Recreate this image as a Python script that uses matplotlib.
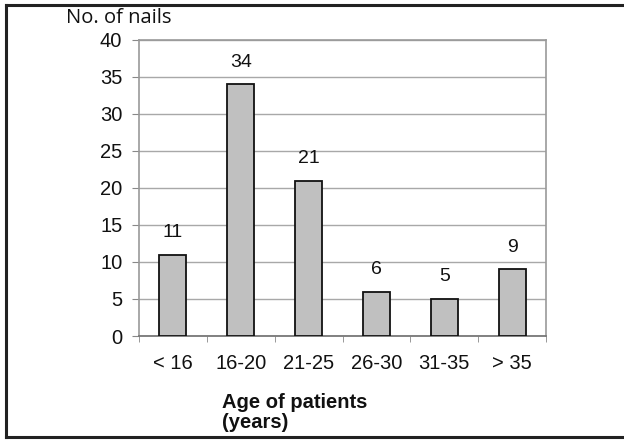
import matplotlib.pyplot as plt
from matplotlib.lines import Line2D
import numpy as np

groups = ['< 16', '16-20', '21-25', '26-30', '31-35', '> 35']
nails = [11, 34, 21, 6, 5, 9]
yticks = [0, 5, 10, 15, 20, 25, 30, 35, 40]

plt.rcParams['font.family'] = 'Liberation Sans'

fig = plt.figure(figsize=(6.24, 4.41), dpi=100)
ax = fig.add_axes([139/624, 1-336/441, (546-139)/624, (336-40)/441])

x = np.arange(len(groups))
bars = ax.bar(x, nails, width=0.4, color='#c0c0c0', edgecolor='#111111', linewidth=1.3, zorder=3)
for xi, v in zip(x, nails):
    ax.annotate(str(v), (xi, v), xytext=(0, 10), textcoords='offset points',
                ha='center', va='bottom', fontsize=14, color='#111111')

ax.set_xlim(-0.5, len(groups) - 0.5)
ax.set_ylim(0, 40)
ax.set_yticks(yticks)
ax.set_xticks(x)
ax.set_xticklabels(groups)
ax.set_xticks(np.arange(len(groups) + 1) - 0.5, minor=True)
ax.tick_params(axis='x', which='major', length=0, pad=13, labelsize=14.5, colors='#111111')
ax.tick_params(axis='x', which='minor', length=4, color='#888888', direction='out')
ax.tick_params(axis='y', length=5, color='#888888', pad=7, labelsize=14.5, labelcolor='#111111')
ax.grid(axis='y', color='#a8a8a8', linewidth=1, zorder=0)
for s in ['left', 'top', 'right']:
    ax.spines[s].set_color('#999999')
    ax.spines[s].set_linewidth(1.2)
ax.spines['bottom'].set_color('#777777')
ax.spines['bottom'].set_linewidth(1.3)

fig.text(66/624, 1-18/441, 'No. of nails', fontsize=14.5, family='Open Sans',
         ha='left', va='center', color='#111111')
fig.text(222/624, 1-393/441, 'Age of patients\n(years)', fontsize=14.5, fontweight='bold',
         ha='left', va='top', linespacing=1.1, color='#111111')

# outer frame
fx0, fy0, fy1 = 6/624, 1-437/441, 1-5/441
fig.add_artist(Line2D([fx0, fx0], [fy0, fy1], color='#222222', lw=2.2))
fig.add_artist(Line2D([fx0, 1], [fy1, fy1], color='#222222', lw=2.2))
fig.add_artist(Line2D([fx0, 1], [fy0, fy0], color='#222222', lw=2.2))

fig.savefig('out.png', dpi=100)
